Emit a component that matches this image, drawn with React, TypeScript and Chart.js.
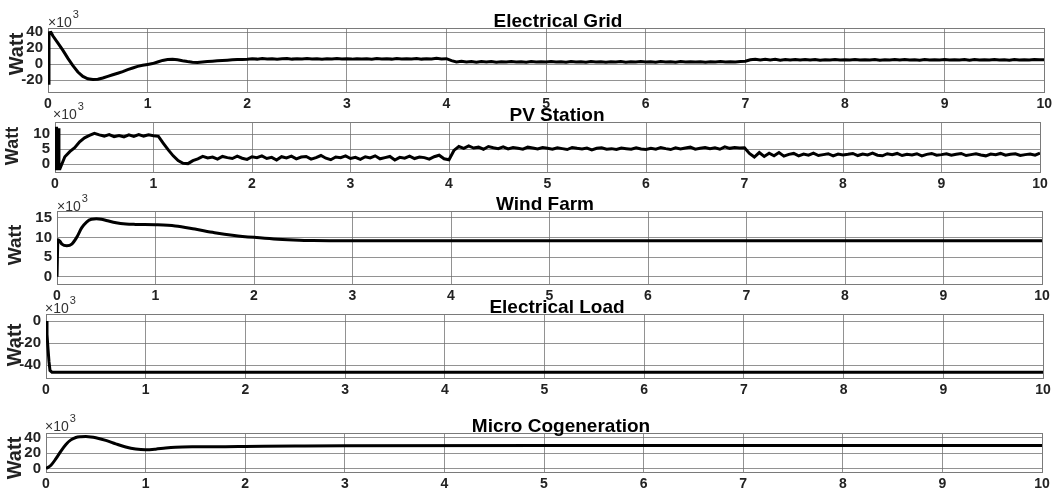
import React, { useEffect, useRef } from "react";
import { Chart, registerables } from "chart.js";

Chart.register(...registerables);

// ---------- data (kW, shown as x10^3 W) ----------
const X_TICKS = [0, 1, 2, 3, 4, 5, 6, 7, 8, 9, 10];

// uniform time base for the noisy series: 0.05 ... 10.00 s
const FINE_T = Array.from({ length: 200 }, (_, i) => Math.round((i + 1) * 5) / 100);

const GRID_START_T = [0, 0.01, 0.03];
const GRID_START_V = [-24, 39, 39.5];
const GRID_V = [
  35, 26, 17, 7, -2, -10, -15.5, -18.5, -19.5, -19, -17.5, -15.5, -13.5, -11.5, -9.5, -7, -5, -3, -1.5, -0.5,
  0.5, 2.5, 4.5, 5.5, 5.8, 5.2, 4, 3, 2.2, 2, 2.6, 3, 3.5, 4, 4.5, 4.8, 5.2, 5.5, 5.7, 6,
  6.6, 6.1, 6.8, 6.2, 6.7, 6.0, 6.5, 6.9, 6.1, 6.6, 6.2, 6.8, 6.3, 6.6, 6.0, 6.7, 6.2, 6.9, 6.3, 6.5,
  6.1, 6.7, 6.2, 6.6, 6.0, 6.8, 6.3, 6.5, 6.1, 6.9, 6.2, 6.6, 6.4, 6.8, 6.1, 6.5, 6.2, 7.2, 6.4, 6.6,
  4.2, 2.6, 3.3, 2.4, 3.1, 2.2, 3.0, 2.5, 3.2, 2.3, 2.9, 2.4, 3.1, 2.6, 2.8, 2.3, 3.0, 2.5, 2.9, 2.4,
  3.0, 2.4, 2.8, 2.2, 3.1, 2.5, 2.7, 2.3, 3.0, 2.6, 2.9, 2.2, 2.8, 2.5, 3.1, 2.3, 2.7, 2.6, 3.0, 2.4,
  2.8, 2.2, 3.0, 2.5, 2.7, 2.3, 3.2, 2.4, 2.8, 2.6, 2.9, 2.3, 2.7, 2.5, 3.0, 2.4, 2.8, 2.6, 3.1, 3.4,
  5.2, 5.9, 4.9, 6.0, 5.1, 5.8, 4.8, 5.7, 5.0, 5.6, 4.9, 5.5, 5.1, 5.6, 4.8, 5.4, 5.0, 5.5, 5.1, 5.3,
  5.0, 5.6, 4.9, 5.4, 5.1, 5.7, 4.8, 5.3, 5.0, 5.5, 4.9, 5.6, 5.1, 5.3, 4.8, 5.5, 5.0, 5.4, 5.1, 5.6,
  4.9, 5.4, 5.0, 5.6, 4.8, 5.5, 5.1, 5.3, 4.9, 5.6, 5.0, 5.4, 4.8, 5.5, 5.1, 5.3, 5.0, 5.6, 5.2, 5.4,
];

const PV_START_T = [0, 0.008, 0.016, 0.024, 0.032, 0.04];
const PV_START_V = [12.5, -2, 12.5, -2, 12, -1.5];
const PV_V = [
  -1.5, 2.5, 4.2, 5.5, 7.5, 8.8, 9.6, 10.3, 9.8, 9.4, 9.9, 9.2, 9.6, 9.1, 9.8, 9.3, 9.9, 9.4, 9.8, 9.5,
  9.3, 7.0, 4.8, 2.8, 1.2, 0.3, 0.2, 1.2, 1.8, 2.6, 2.1, 2.4, 1.7, 2.6, 2.2, 1.9, 2.7, 2.0, 1.6, 2.5,
  2.2, 2.8, 1.9, 2.3, 1.4, 2.5, 2.1, 2.7, 1.8, 2.4, 2.6, 1.7, 2.2, 2.9, 2.0, 1.5, 2.4, 2.2, 2.8, 1.9,
  2.3, 1.6, 2.5, 2.1, 2.8, 1.8, 2.2, 2.6, 1.4, 2.3, 2.0, 2.7, 1.9, 2.4, 2.2, 1.7, 2.5, 3.0, 1.8, 1.5,
  4.6, 5.9, 5.3, 6.1, 5.4, 5.7, 5.0, 5.9, 5.5, 5.2, 5.8, 5.1, 5.6, 5.3, 5.0, 5.7, 5.4, 5.1, 5.6, 5.3,
  5.0, 5.5, 5.2, 4.9, 5.6, 5.3, 5.1, 5.4, 4.8, 5.3, 5.5, 5.0, 5.2, 4.9, 5.4, 5.2, 5.0, 5.5, 5.1, 4.9,
  5.3, 5.0, 5.6, 5.2, 4.9, 5.5, 5.1, 5.4, 5.7, 5.0, 5.3, 5.6, 5.2, 5.5, 5.0, 5.8, 5.3, 5.6, 5.4, 5.5,
  3.6, 2.4, 3.9, 2.6, 3.7, 2.8, 3.9, 2.7, 3.3, 3.6, 2.8, 3.4, 3.0, 3.7, 2.9, 3.2, 3.5, 2.8, 3.4, 3.1,
  3.3, 3.6, 2.9, 3.4, 3.1, 3.7, 3.0, 2.8, 3.5, 3.2, 3.6, 2.9, 3.3, 3.1, 3.5, 2.8, 3.3, 3.6, 3.0, 3.2,
  3.5, 3.0, 3.3, 3.6, 2.9, 3.2, 3.5, 3.1, 2.8, 3.4, 3.2, 3.6, 3.0, 3.3, 3.5, 2.9, 3.2, 3.4, 3.0, 3.7,
];

const WIND_T = [0, 0.01, 0.03, 0.05, 0.1, 0.15, 0.2, 0.25, 0.3, 0.35, 0.4, 0.45, 0.5, 0.6, 0.7, 0.8, 1.0, 1.2, 1.4, 1.6, 1.8, 2.0, 2.2, 2.4, 2.6, 3.0, 10];
const WIND_V = [0, 9.4, 9.0, 8.3, 7.9, 8.3, 10, 12.4, 13.9, 14.6, 14.7, 14.6, 14.3, 13.7, 13.4, 13.3, 13.2, 12.9, 12.1, 11.2, 10.5, 10.0, 9.6, 9.35, 9.2, 9.15, 9.15];

const LOAD_T = [0, 0.01, 0.02, 0.03, 0.04, 0.06, 10];
const LOAD_V = [0, -12, -25, -37, -45, -46.5, -46.5];

const COGEN_T = [0, 0.05, 0.1, 0.15, 0.2, 0.25, 0.3, 0.35, 0.4, 0.45, 0.5, 0.6, 0.7, 0.8, 0.9, 1.0, 1.1, 1.2, 1.3, 1.5, 1.8, 2.0, 2.5, 3.0, 5.0, 10];
const COGEN_V = [0, 4.3, 12.9, 22.8, 31.4, 37.4, 40.5, 41.5, 41.8, 41.3, 40.2, 36.8, 32.3, 28.2, 25.5, 24.5, 25.3, 26.8, 27.8, 28.4, 28.6, 28.8, 29.3, 29.7, 30, 30];

const GRID_Y_TICKS = [-20, 0, 20, 40];
const PV_Y_TICKS = [0, 5, 10];
const WIND_Y_TICKS = [0, 5, 10, 15];
const LOAD_Y_TICKS = [-40, -20, 0];
const COGEN_Y_TICKS = [0, 20, 40];

const TITLES = ["Electrical Grid", "PV Station", "Wind Farm", "Electrical Load", "Micro Cogeneration"];

// ---------- layout / style ----------
const FONT = '"Liberation Sans", Arial, sans-serif';
const TXT = "#222";
const GRID_C = "rgba(110,110,110,0.75)";
const BOX_C = "#7a7a7a";
const TOP_PAD = 30;
const X_AXIS_H = 24;
const W = 1056;

type PanelDef = {
  title: string; t: number[]; v: number[]; yTicks: number[]; yMin: number; yMax: number;
  L: number; R: number; T: number; B: number; titleX: number; wattX: number; wattY: number;
  wattSize: number; expX: number; expDy: number; smooth: boolean;
};

const PANELS: PanelDef[] = [
  { title: TITLES[0], t: [...GRID_START_T, ...FINE_T], v: [...GRID_START_V, ...GRID_V], yTicks: GRID_Y_TICKS,
    yMin: -35, yMax: 45, L: 48, R: 1045, T: 28, B: 92, titleX: 558, wattX: 17, wattY: 54, wattSize: 20, expX: 48, expDy: 1, smooth: false },
  { title: TITLES[1], t: [...PV_START_T, ...FINE_T], v: [...PV_START_V, ...PV_V], yTicks: PV_Y_TICKS,
    yMin: -2.6, yMax: 14.1, L: 55, R: 1040, T: 122, B: 172, titleX: 557, wattX: 13, wattY: 146, wattSize: 18, expX: 53, expDy: 3, smooth: false },
  { title: TITLES[2], t: WIND_T, v: WIND_V, yTicks: WIND_Y_TICKS,
    yMin: -1.85, yMax: 16.7, L: 57, R: 1042, T: 211, B: 284, titleX: 545, wattX: 16, wattY: 245, wattSize: 19, expX: 57, expDy: 0, smooth: true },
  { title: TITLES[3], t: LOAD_T, v: LOAD_V, yTicks: LOAD_Y_TICKS,
    yMin: -51.8, yMax: 6.4, L: 46, R: 1043, T: 314, B: 378, titleX: 557, wattX: 15, wattY: 345, wattSize: 20, expX: 45, expDy: 1, smooth: false },
  { title: TITLES[4], t: COGEN_T, v: COGEN_V, yTicks: COGEN_Y_TICKS,
    yMin: -4.5, yMax: 46.4, L: 46, R: 1042, T: 433, B: 472, titleX: 561, wattX: 15, wattY: 458, wattSize: 20, expX: 45, expDy: 2, smooth: true },
];

function Panel({ p, idx }: { p: PanelDef; idx: number }) {
  const ref = useRef<HTMLCanvasElement | null>(null);
  const top = p.T - TOP_PAD;
  const height = p.B - p.T + TOP_PAD + X_AXIS_H;

  useEffect(() => {
    if (!ref.current) return;
    const frame = {
      id: "frame" + idx,
      beforeDatasetsDraw(chart: any) {
        const { ctx, chartArea: a } = chart;
        ctx.save();
        ctx.strokeStyle = BOX_C;
        ctx.lineWidth = 1;
        ctx.strokeRect(Math.round(a.left) + 0.5, Math.round(a.top) + 0.5, Math.round(a.right - a.left), Math.round(a.bottom - a.top));
        ctx.restore();
      },
      afterDraw(chart: any) {
        const { ctx, chartArea: a } = chart;
        ctx.save();
        // title
        ctx.fillStyle = "#000";
        ctx.font = `bold 19px ${FONT}`;
        ctx.textAlign = "center";
        ctx.textBaseline = "alphabetic";
        ctx.fillText(p.title, p.titleX, a.top - 1);
        // exponent label
        ctx.fillStyle = "#333";
        ctx.textAlign = "left";
        ctx.font = `14px ${FONT}`;
        const base = a.top - p.expDy;
        ctx.fillText("\u00d710", p.expX, base);
        const w = ctx.measureText("\u00d710").width;
        ctx.font = `11px ${FONT}`;
        ctx.fillText("3", p.expX + w + 1, base - 9);
        // y-axis title
        ctx.fillStyle = TXT;
        ctx.font = `bold ${p.wattSize}px ${FONT}`;
        ctx.translate(p.wattX, p.wattY - top);
        ctx.rotate(-Math.PI / 2);
        ctx.textAlign = "center";
        ctx.textBaseline = "middle";
        ctx.fillText("Watt", 0, 0);
        ctx.restore();
      },
    };
    const chart = new Chart(ref.current, {
      type: "line",
      data: {
        datasets: [
          {
            data: p.t.map((x, i) => ({ x, y: p.v[i] })),
            borderColor: "#000",
            borderWidth: 3,
            pointRadius: 0,
            fill: false,
            tension: 0,
            cubicInterpolationMode: p.smooth ? "monotone" : "default",
          } as any,
        ],
      },
      options: {
        responsive: false,
        animation: false,
        devicePixelRatio: 1,
        events: [],
        layout: { padding: { left: 0, right: W - p.R, top: TOP_PAD, bottom: 0 } },
        plugins: { legend: { display: false }, title: { display: false }, tooltip: { enabled: false } },
        scales: {
          x: {
            type: "linear",
            min: 0,
            max: 10,
            afterBuildTicks: (s: any) => { s.ticks = X_TICKS.map((value) => ({ value })); },
            afterFit: (s: any) => { s.height = X_AXIS_H; },
            grid: { color: GRID_C, lineWidth: 1, drawTicks: false },
            border: { display: false },
            ticks: { padding: 4, color: TXT, autoSkip: false, maxRotation: 0, font: { family: FONT, size: 14, weight: "bold" } },
          },
          y: {
            type: "linear",
            min: p.yMin,
            max: p.yMax,
            afterBuildTicks: (s: any) => { s.ticks = p.yTicks.map((value) => ({ value })); },
            afterFit: (s: any) => { s.width = p.L; },
            grid: { color: GRID_C, lineWidth: 1, drawTicks: false },
            border: { display: false },
            ticks: { padding: 5, color: TXT, autoSkip: false, font: { family: FONT, size: 15, weight: "bold" } },
          },
        },
      } as any,
      plugins: [frame],
    });
    return () => chart.destroy();
  }, []);

  return (
    <canvas
      ref={ref}
      width={W}
      height={height}
      style={{ position: "absolute", left: 0, top, width: W, height }}
    />
  );
}

export default function App() {
  return (
    <div style={{ position: "absolute", left: 0, top: 0, width: W, height: 491, background: "#fff", overflow: "hidden" }}>
      {PANELS.map((p, i) => (
        <Panel key={i} p={p} idx={i} />
      ))}
    </div>
  );
}
